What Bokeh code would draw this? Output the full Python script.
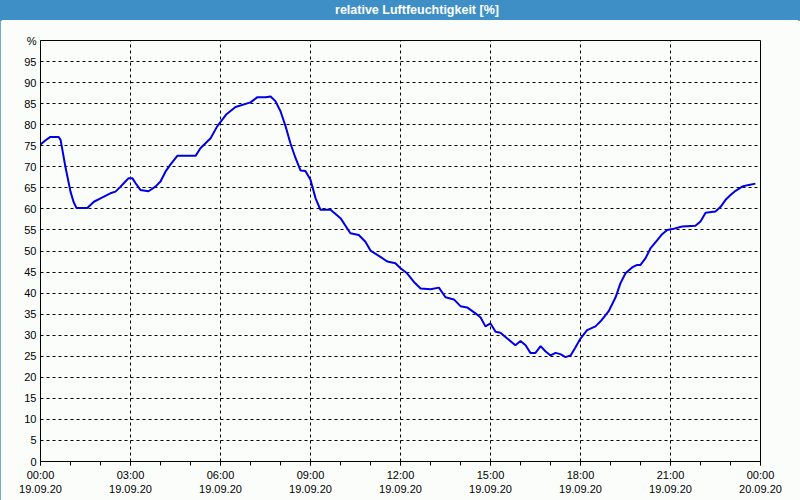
from bokeh.plotting import figure
from bokeh.models import FixedTicker, Div, Range1d
from bokeh.layouts import column
from bokeh.embed import file_html
from bokeh.resources import INLINE

# Time of day in hours since 19.09.20 00:00
hours = [0.0, 0.17, 0.33, 0.6, 0.67, 0.83, 1.0, 1.1, 1.2, 1.56, 1.78, 2.0, 2.33, 2.5,
         2.67, 2.83, 2.94, 3.06, 3.17, 3.33, 3.6, 3.83, 4.0, 4.17, 4.33, 4.56, 5.17,
         5.33, 5.67, 5.89, 6.06, 6.2, 6.5, 7.0, 7.22, 7.5, 7.67, 7.83, 8.0, 8.17, 8.33,
         8.5, 8.67, 8.83, 9.0, 9.17, 9.33, 9.67, 10.0, 10.33, 10.61, 10.83, 11.0, 11.33,
         11.56, 11.83, 12.0, 12.22, 12.44, 12.67, 13.0, 13.28, 13.5, 13.78, 14.0, 14.22,
         14.5, 14.67, 14.83, 15.0, 15.17, 15.33, 15.56, 15.83, 16.0, 16.17, 16.33, 16.5,
         16.67, 16.83, 17.0, 17.17, 17.33, 17.5, 17.67, 17.83, 18.0, 18.22, 18.5, 18.67,
         18.94, 19.17, 19.33, 19.5, 19.72, 19.89, 20.0, 20.17, 20.33, 20.56, 20.72, 20.89,
         21.06, 21.39, 21.83, 22.0, 22.17, 22.5, 22.67, 22.83, 23.0, 23.17, 23.39, 23.61,
         23.83]
humidity = [75.3, 76.3, 77.1, 77.1, 76.4, 70.0, 64.1, 61.7, 60.2, 60.2, 61.7, 62.5, 63.7, 64.1,
            65.3, 66.5, 67.3, 67.3, 66.1, 64.5, 64.2, 65.3, 66.5, 68.9, 70.5, 72.6, 72.6,
            74.4, 76.8, 79.6, 81.2, 82.5, 84.2, 85.3, 86.5, 86.5, 86.7, 85.6, 83.2, 79.6, 75.6,
            72.1, 69.1, 69.0, 66.9, 62.5, 59.8, 59.8, 57.8, 54.2, 53.8, 52.2, 50.1, 48.6,
            47.5, 47.1, 45.9, 44.7, 42.7, 41.1, 40.9, 41.3, 39.0, 38.5, 36.9, 36.6,
            35.2, 34.2, 32.1, 32.8, 30.8, 30.6, 29.2, 27.6, 28.6, 27.6, 25.8, 25.8,
            27.4, 26.2, 25.2, 25.8, 25.5, 24.8, 25.2, 27.1, 29.2, 31.2, 32.1, 33.3,
            35.7, 39.0, 42.3, 44.7, 46.1, 46.7, 46.7, 48.3, 50.6, 52.6, 54.0, 55.0,
            55.2, 55.8, 56.0, 57.0, 59.1, 59.4, 60.5, 62.1, 63.3, 64.3, 65.3, 65.7,
            66.0]

x_ticks = [0, 3, 6, 9, 12, 15, 18, 21, 24]
x_tick_labels = ["00:00\n19.09.20", "03:00\n19.09.20", "06:00\n19.09.20", "09:00\n19.09.20",
                 "12:00\n19.09.20", "15:00\n19.09.20", "18:00\n19.09.20", "21:00\n19.09.20",
                 "00:00\n20.09.20"]
x_minor_ticks = list(range(0, 25))
y_ticks = list(range(0, 101, 5))
y_tick_labels = [str(v) for v in range(0, 100, 5)] + ["%"]

title_text = "relative Luftfeuchtigkeit [%]"

BLUE = "#3d8fc6"
BG = "#fbfdfb"
FONT = "Liberation Sans"

title = Div(text=title_text, width=800, height=20, margin=0,
            styles={"background-color": BLUE, "color": "white", "font-family": FONT,
                    "font-weight": "bold", "font-size": "12.5px", "text-align": "center",
                    "line-height": "20px", "padding-left": "34px", "box-sizing": "border-box",
                    "width": "800px", "height": "20px"})

p = figure(width=800, height=480, output_backend="svg", toolbar_location=None,
           x_range=Range1d(0, 24), y_range=Range1d(0, 100), margin=0,
           min_border_left=40, min_border_right=40, min_border_top=20, min_border_bottom=39)
p.background_fill_color = BG
p.border_fill_color = BG
p.outline_line_color = "black"
p.outline_line_width = 1
p.outline_line_alpha = 1.0

p.line(hours, humidity, line_color="#0000e6", line_width=2)

p.xaxis.ticker = FixedTicker(ticks=x_ticks, minor_ticks=x_minor_ticks)
p.xaxis.major_label_overrides = dict(zip(x_ticks, x_tick_labels))
p.yaxis.ticker = FixedTicker(ticks=y_ticks)
p.yaxis.major_label_overrides = dict(zip(y_ticks, y_tick_labels))

for ax in (p.xaxis[0], p.yaxis[0]):
    ax.axis_line_color = "black"
    ax.major_label_text_font = FONT
    ax.major_label_text_font_size = "11px"
    ax.major_label_text_color = "black"
    ax.major_tick_line_color = "black"
    ax.minor_tick_line_color = "black"

p.xaxis.major_tick_out = 4
p.xaxis.major_tick_in = 0
p.xaxis.minor_tick_out = 4
p.xaxis.minor_tick_in = 0
p.xaxis.major_label_standoff = 3
p.xaxis.major_label_text_line_height = 1.2
p.yaxis.major_tick_out = 0
p.yaxis.major_tick_in = 0
p.yaxis.minor_tick_line_color = None
p.yaxis.major_label_standoff = 4

p.xgrid.ticker = FixedTicker(ticks=x_ticks)
for g in (p.xgrid[0], p.ygrid[0]):
    g.grid_line_color = "black"
    g.grid_line_dash = "3 3"
    g.grid_line_width = 1
    g.grid_line_alpha = 1.0

layout = column(title, p, spacing=0, margin=0,
                styles={"outline": "2px solid " + BLUE, "outline-offset": "-2px",
                        "background-color": BG})

open("out.html", "w").write(file_html(layout, INLINE))
